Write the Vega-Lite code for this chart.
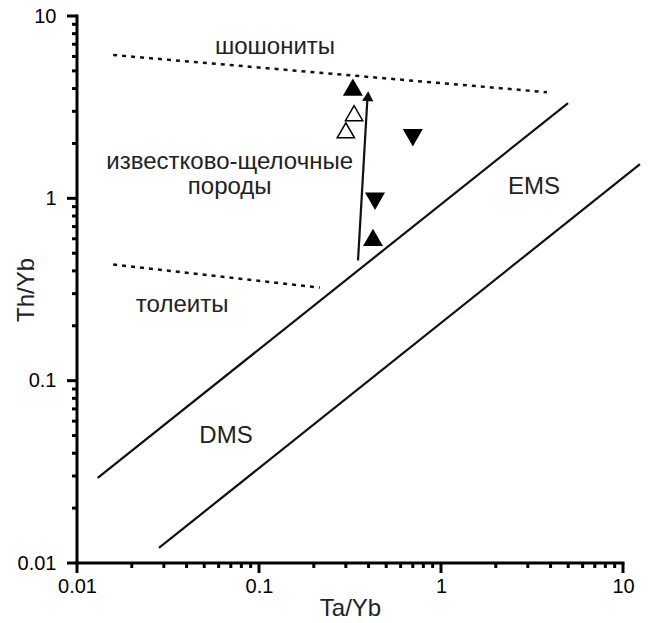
{
  "$schema": "https://vega.github.io/schema/vega-lite/v6.json",
  "autosize": "none",
  "width": 546,
  "height": 547,
  "padding": {"left": 77, "top": 16, "right": 32, "bottom": 60},
  "background": "white",
  "config": {
    "view": {"stroke": null},
    "font": "Liberation Sans"
  },
  "datasets": {
    "lines": [
      {"id": "shosh", "x": 0.0158, "y": 6.11},
      {"id": "shosh", "x": 3.82, "y": 3.82},
      {"id": "thol", "x": 0.0158, "y": 0.433},
      {"id": "thol", "x": 0.216, "y": 0.324}
    ],
    "solid": [
      {"id": "upper", "x": 0.0130, "y": 0.0293},
      {"id": "upper", "x": 4.99, "y": 3.33},
      {"id": "lower", "x": 0.0282, "y": 0.0121},
      {"id": "lower", "x": 12.4, "y": 1.54},
      {"id": "arrow", "x": 0.350, "y": 0.456},
      {"id": "arrow", "x": 0.394, "y": 3.50}
    ],
    "domains": [
      {"id": "xd", "x": 0.01, "y": 0.01},
      {"id": "xd", "x": 10, "y": 0.01},
      {"id": "yd", "x": 0.01, "y": 0.01},
      {"id": "yd", "x": 0.01, "y": 10}
    ],
    "ticks": [
      {"v": 0.01, "a": 0.01, "b": 0.00881},
      {"v": 0.02, "a": 0.01, "b": 0.00939}, {"v": 0.03, "a": 0.01, "b": 0.00939}, {"v": 0.04, "a": 0.01, "b": 0.00939},
      {"v": 0.05, "a": 0.01, "b": 0.00939}, {"v": 0.06, "a": 0.01, "b": 0.00939}, {"v": 0.07, "a": 0.01, "b": 0.00939},
      {"v": 0.08, "a": 0.01, "b": 0.00939}, {"v": 0.09, "a": 0.01, "b": 0.00939},
      {"v": 0.1, "a": 0.01, "b": 0.00881},
      {"v": 0.2, "a": 0.01, "b": 0.00939}, {"v": 0.3, "a": 0.01, "b": 0.00939}, {"v": 0.4, "a": 0.01, "b": 0.00939},
      {"v": 0.5, "a": 0.01, "b": 0.00939}, {"v": 0.6, "a": 0.01, "b": 0.00939}, {"v": 0.7, "a": 0.01, "b": 0.00939},
      {"v": 0.8, "a": 0.01, "b": 0.00939}, {"v": 0.9, "a": 0.01, "b": 0.00939},
      {"v": 1, "a": 0.01, "b": 0.00881},
      {"v": 2, "a": 0.01, "b": 0.00939}, {"v": 3, "a": 0.01, "b": 0.00939}, {"v": 4, "a": 0.01, "b": 0.00939},
      {"v": 5, "a": 0.01, "b": 0.00939}, {"v": 6, "a": 0.01, "b": 0.00939}, {"v": 7, "a": 0.01, "b": 0.00939},
      {"v": 8, "a": 0.01, "b": 0.00939}, {"v": 9, "a": 0.01, "b": 0.00939},
      {"v": 10, "a": 0.01, "b": 0.00881}
    ],
    "head": [
      {"x": 0.397, "y": 3.63}
    ],
    "up": [
      {"x": 0.328, "y": 4.07},
      {"x": 0.423, "y": 0.611}
    ],
    "down": [
      {"x": 0.70, "y": 2.15},
      {"x": 0.434, "y": 0.964}
    ],
    "open": [
      {"x": 0.333, "y": 2.93},
      {"x": 0.300, "y": 2.36}
    ],
    "labels": [
      {"x": 0.1225, "y": 6.18, "text": "шошониты"},
      {"x": 0.069, "y": 1.44, "text": "известково-щелочные"},
      {"x": 0.069, "y": 1.05, "text": "породы"},
      {"x": 0.0378, "y": 0.239, "text": "толеиты"},
      {"x": 3.24, "y": 1.05, "text": "EMS"},
      {"x": 0.0659, "y": 0.0456, "text": "DMS"}
    ]
  },
  "layer": [
    {
      "data": {"name": "solid"},
      "mark": {"type": "line", "color": "#111", "strokeWidth": 2.2},
      "encoding": {
        "x": {
          "field": "x", "type": "quantitative",
          "scale": {"type": "log", "domain": [0.01, 10], "nice": false},
          "axis": {
            "title": "Ta/Yb",
            "values": [0.01, 0.1, 1, 10],
            "format": ".2~f",
            "grid": false,
            "domainOpacity": 0,
            "tickOpacity": 0, "tickSize": 10,
            "labelColor": "black", "labelFont": "Liberation Sans", "labelFontSize": 20,
            "labelFlush": false, "labelOverlap": false,
            "labelPadding": 3,
            "titleFont": "Liberation Sans", "titleFontSize": 24, "titleFontWeight": "normal", "titleColor": "#222",
            "titlePadding": 0
          }
        },
        "y": {
          "field": "y", "type": "quantitative",
          "scale": {"type": "log", "domain": [0.01, 10], "nice": false},
          "axis": {
            "title": "Th/Yb",
            "values": [0.01, 0.1, 1, 10],
            "format": ".2~f",
            "grid": false,
            "domainOpacity": 0,
            "tickOpacity": 0, "tickSize": 10,
            "labelColor": "black", "labelFont": "Liberation Sans", "labelFontSize": 20,
            "labelFlush": false, "labelOverlap": false,
            "labelPadding": 11,
            "titleFont": "Liberation Sans", "titleFontSize": 24, "titleFontWeight": "normal", "titleColor": "#222",
            "titleX": -51, "titleBaseline": "middle"
          }
        },
        "detail": {"field": "id"}
      }
    },
    {
      "data": {"name": "domains"},
      "mark": {"type": "line", "color": "#000", "strokeWidth": 3, "strokeCap": "square"},
      "encoding": {
        "x": {"field": "x", "type": "quantitative"},
        "y": {"field": "y", "type": "quantitative"},
        "detail": {"field": "id"}
      }
    },
    {
      "data": {"name": "ticks"},
      "transform": [{"fold": ["a", "b"], "as": ["end", "pos"]}],
      "mark": {"type": "line", "color": "#000", "strokeWidth": 3},
      "encoding": {
        "x": {"field": "v", "type": "quantitative"},
        "y": {"field": "pos", "type": "quantitative"},
        "detail": {"field": "v"}
      }
    },
    {
      "data": {"name": "ticks"},
      "transform": [{"fold": ["a", "b"], "as": ["end", "pos"]}],
      "mark": {"type": "line", "color": "#000", "strokeWidth": 3},
      "encoding": {
        "y": {"field": "v", "type": "quantitative"},
        "x": {"field": "pos", "type": "quantitative"},
        "detail": {"field": "v"},
        "order": {"field": "end"}
      }
    },
    {
      "data": {"name": "lines"},
      "mark": {"type": "line", "color": "#111", "strokeWidth": 2.5, "strokeDash": [4, 5]},
      "encoding": {
        "x": {"field": "x", "type": "quantitative"},
        "y": {"field": "y", "type": "quantitative"},
        "detail": {"field": "id"}
      }
    },
    {
      "data": {"name": "up"},
      "mark": {"type": "point", "shape": "triangle-up", "filled": true, "opacity": 1, "color": "black", "size": 400},
      "encoding": {
        "x": {"field": "x", "type": "quantitative"},
        "y": {"field": "y", "type": "quantitative"}
      }
    },
    {
      "data": {"name": "down"},
      "mark": {"type": "point", "shape": "triangle-down", "filled": true, "opacity": 1, "color": "black", "size": 400},
      "encoding": {
        "x": {"field": "x", "type": "quantitative"},
        "y": {"field": "y", "type": "quantitative"}
      }
    },
    {
      "data": {"name": "open"},
      "mark": {"type": "point", "shape": "triangle-up", "filled": false, "fill": "white", "fillOpacity": 1, "opacity": 1, "stroke": "black", "strokeWidth": 1.5, "size": 300},
      "encoding": {
        "x": {"field": "x", "type": "quantitative"},
        "y": {"field": "y", "type": "quantitative"}
      }
    },
    {
      "data": {"name": "head"},
      "mark": {"type": "point", "shape": "triangle-up", "filled": true, "opacity": 1, "color": "#111", "size": 130, "angle": 3.3},
      "encoding": {
        "x": {"field": "x", "type": "quantitative"},
        "y": {"field": "y", "type": "quantitative"}
      }
    },
    {
      "data": {"name": "labels"},
      "mark": {"type": "text", "font": "Liberation Sans", "fontSize": 24, "align": "center", "baseline": "alphabetic", "color": "#222"},
      "encoding": {
        "x": {"field": "x", "type": "quantitative"},
        "y": {"field": "y", "type": "quantitative"},
        "text": {"field": "text"}
      }
    }
  ]
}
